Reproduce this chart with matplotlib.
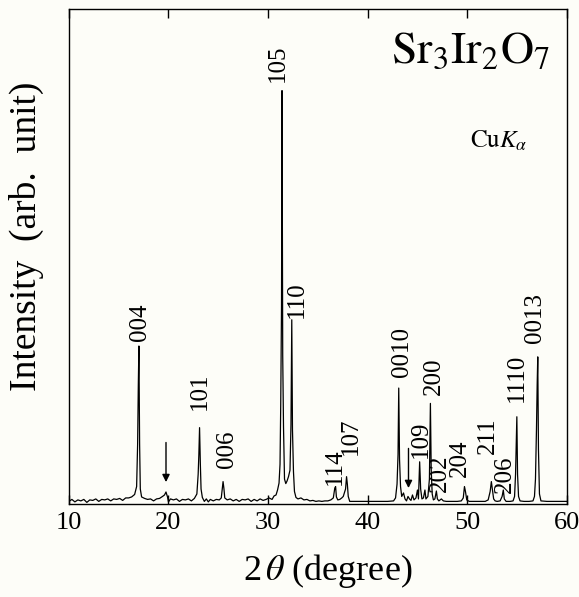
import matplotlib
matplotlib.use('Agg') # 画面なしで描画
import matplotlib.pyplot as plt # グラフ描画用ライブラリ


# 測定データ（図から読み取った 2θ と強度）
two_theta = [
    10.0, 10.3, 10.6, 10.9, 11.2, 11.5, 11.8, 12.1, 12.4, 12.7, 13.0, 13.3, 13.6, 13.9,
    14.2, 14.5, 14.8, 15.1, 15.4, 15.7, 16.0, 16.3, 16.6, 16.8, 16.9, 16.97, 17.03, 17.1,
    17.17, 17.3, 17.6, 17.9, 18.2, 18.5, 18.8, 19.1, 19.4, 19.6, 19.75, 19.9, 20.0, 20.2,
    20.5, 20.8, 21.1, 21.4, 21.7, 22.0, 22.3, 22.6, 22.85, 22.98, 23.05, 23.12, 23.2, 23.27,
    23.4, 23.6, 23.8, 24.0, 24.2, 24.5, 24.8, 25.1, 25.3, 25.4, 25.48, 25.56, 25.65, 25.9,
    26.2, 26.5, 26.8, 27.1, 27.4, 27.7, 28.0, 28.3, 28.6, 28.9, 29.2, 29.5, 29.8, 30.1,
    30.4, 30.6, 30.8, 30.95, 31.1, 31.2, 31.27, 31.35, 31.4, 31.47, 31.55, 31.65, 31.78, 31.9,
    32.05, 32.2, 32.3, 32.38, 32.45, 32.55, 32.65, 32.8, 33.0, 33.3, 33.6, 33.9, 34.2, 34.5,
    34.8, 35.1, 35.4, 35.7, 36.0, 36.3, 36.55, 36.7, 36.78, 36.86, 37.0, 37.2, 37.4, 37.55,
    37.78, 37.88, 37.96, 38.05, 38.2, 38.5, 39.0, 40.0, 41.0, 42.0, 42.6, 42.8, 42.95, 43.05,
    43.12, 43.2, 43.3, 43.42, 43.6, 43.75, 43.9, 44.05, 44.2, 44.35, 44.5, 44.65, 44.85, 45.0,
    45.1, 45.22, 45.32, 45.45, 45.6, 45.75, 45.85, 46.05, 46.2, 46.3, 46.38, 46.48, 46.6, 46.75,
    46.9, 47.0, 47.15, 47.4, 47.6, 47.9, 48.5, 49.0, 49.4, 49.6, 49.72, 49.82, 49.95, 50.2,
    51.0, 51.8, 52.1, 52.3, 52.42, 52.52, 52.65, 52.8, 53.0, 53.3, 53.5, 53.62, 53.72, 53.9,
    54.3, 54.6, 54.75, 54.85, 54.92, 54.98, 55.05, 55.15, 55.3, 55.7, 56.2, 56.6, 56.75, 56.85,
    56.95, 57.02, 57.08, 57.15, 57.25, 57.4, 58.0, 59.0, 60.0,
]
intensity = [
    0.5, 0.9, 0.4, 0.8, 0.6, 0.9, 0.3, 0.8, 0.7, 1.0, 0.5, 0.9, 0.8, 1.0,
    0.6, 1.0, 0.9, 1.1, 0.7, 1.2, 1.2, 1.4, 1.9, 3.5, 12.0, 24.0, 31.9, 12.0,
    3.0, 1.4, 1.1, 0.9, 1.0, 0.6, 1.0, 1.1, 1.5, 1.8, 2.4, 1.4, 0.4, 1.0,
    0.8, 1.0, 0.5, 0.9, 0.8, 1.0, 0.6, 1.1, 2.0, 6.0, 10.0, 15.4, 8.0, 3.0,
    1.3, 0.5, 1.0, 0.4, 0.9, 0.6, 0.9, 0.8, 1.2, 3.0, 4.5, 3.2, 1.2, 0.8,
    1.0, 0.6, 0.9, 0.5, 0.9, 0.8, 1.0, 0.5, 0.9, 0.6, 1.0, 0.7, 0.9, 1.2,
    0.9, 1.6, 1.8, 2.8, 4.2, 8.0, 20.0, 40.0, 83.5, 30.0, 15.5, 5.0, 4.1, 4.6,
    5.5, 6.8, 16.0, 37.2, 15.0, 6.5, 2.5, 1.3, 1.0, 1.2, 0.8, 0.9, 0.6, 0.7,
    0.5, 0.6, 0.5, 0.6, 0.6, 0.8, 1.2, 3.2, 3.5, 1.4, 0.8, 0.9, 1.2, 1.5,
    3.0, 5.5, 4.0, 1.5, 0.5, 0.5, 0.5, 0.5, 0.5, 0.5, 0.6, 1.2, 4.0, 10.0,
    23.4, 9.0, 3.5, 1.5, 2.2, 1.0, 0.6, 1.5, 1.0, 0.7, 1.8, 0.8, 1.2, 2.8,
    1.0, 8.5, 3.0, 1.0, 1.2, 2.8, 1.0, 1.5, 5.0, 20.3, 7.0, 2.0, 0.8, 1.0,
    2.6, 1.0, 0.6, 1.0, 0.6, 0.5, 0.5, 0.5, 0.6, 1.2, 3.5, 2.5, 0.8, 0.5,
    0.5, 0.5, 0.8, 2.5, 4.5, 3.0, 1.0, 0.6, 0.5, 0.6, 1.5, 2.8, 1.0, 0.5,
    0.5, 0.6, 1.5, 6.0, 12.0, 17.6, 6.0, 1.5, 0.6, 0.5, 0.5, 0.6, 1.5, 5.0,
    15.0, 24.0, 29.7, 11.0, 2.0, 0.6, 0.5, 0.5, 0.5,
]

# ピークの指数ラベルとその位置
hkl_labels = ['004', '101', '006', '105', '110', '114', '107', '0010', '109',
              '200', '202', '204', '211', '206', '1110', '0013']
label_x = [17.1, 23.15, 25.83, 30.98, 32.9, 36.7, 38.3, 43.4, 45.3,
           46.65, 47.25, 49.3, 52.1, 53.8, 55.0, 56.8]
label_y = [33.0, 19.0, 7.3, 85.3, 37.6, 3.8, 9.9, 25.7, 9.3,
           22.0, 2.4, 5.5, 10.1, 2.2, 20.6, 32.5]

# 不純物ピーク（矢印）の位置
impurity_x = [19.75, 44.1]
impurity_y = [4.4, 3.2]

x_ticks = [10, 20, 30, 40, 50, 60]


def draw_chart():
    plt.rcParams['mathtext.fontset'] = 'stix' # Times 風の数式フォント
    fig = plt.figure(figsize=(5.79, 5.97), dpi=100, facecolor='#fdfdf8')
    ax = fig.add_axes([0.119, 0.156, 0.860, 0.829])
    ax.set_facecolor('#fdfdf8')

    ax.plot(two_theta, intensity, color='black', lw=0.9)

    serif = 'Liberation Serif'
    for lab, lx, ly in zip(hkl_labels, label_x, label_y):
        ax.text(lx, ly, lab, rotation=90, ha='center', va='bottom',
                fontsize=18, family=serif)

    # 矢印の長さは固定
    for px, py in zip(impurity_x, impurity_y):
        ax.annotate('', xy=(px, py), xytext=(px, py + 8.0),
                    arrowprops=dict(arrowstyle='-|>', color='black', lw=1.0,
                                    mutation_scale=11, shrinkA=0, shrinkB=0))

    ax.text(0.966, 0.891, r'$\mathrm{Sr_3Ir_2O_7}$', transform=ax.transAxes,
            ha='right', va='baseline', fontsize=33)
    ax.text(0.805, 0.719, r'$\mathrm{Cu}\mathit{K}_{\alpha}$', transform=ax.transAxes,
            ha='left', va='baseline', fontsize=18)

    ax.set_xlim(10, 60)
    ax.set_ylim(0, 100)
    ax.set_xticks(x_ticks)
    ax.set_yticks([])
    ax.tick_params(axis='x', direction='in', length=6.5, width=1.0, top=True,
                   labelsize=19, pad=6)
    for lbl in ax.get_xticklabels():
        lbl.set_family(serif)
    for sp in ax.spines.values():
        sp.set_linewidth(1.0)

    ax.set_xlabel(r'2$\,\mathit{\theta}$ (degree)', fontsize=26, family=serif)
    ax.xaxis.set_label_coords(0.52, -0.098)
    ax.set_ylabel('Intensity  (arb.  unit)', fontsize=27, family=serif)
    ax.yaxis.set_label_coords(-0.05, 0.54)

    fig.savefig('out.png', dpi=100, facecolor=fig.get_facecolor())
    plt.close(fig)


def main():
    draw_chart()


if __name__ == '__main__':
    main()
